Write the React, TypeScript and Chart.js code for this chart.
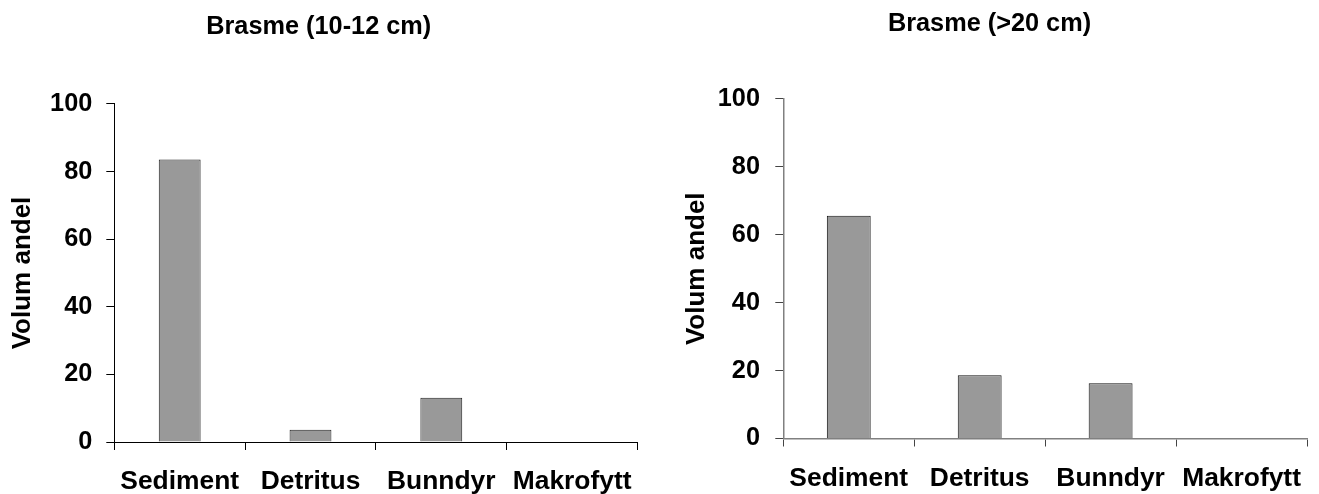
import React, { useEffect, useRef } from "react";
import { Chart, registerables } from "chart.js";

Chart.register(...registerables);

const categories = ["Sediment", "Detritus", "Bunndyr", "Makrofytt"];
const smallFishValues = [83.6, 3.6, 13.1, 0];
const largeFishValues = [65.6, 18.6, 16.3, 0];
const yMin = 0;
const yMax = 100;
const yStep = 20;
const smallTitle = "Brasme (10-12 cm)";
const largeTitle = "Brasme (>20 cm)";
const yAxisTitle = "Volum andel";

const FONT = "'Liberation Sans', Arial, Helvetica, sans-serif";

type Cfg = {
  title: string;
  values: number[];
  width: number;
  padLeft: number;
  padRight: number;
  yWidth: number;
  xHeight: number;
  titleTop: number;
  titleBottom: number;
  yTitlePad: number;
  yTickPad: number;
  barPct: number;
  axisColor: string;
  tickColor: string;
  axisWidth: number;
  barBorder: string;
};

function BarPanel({ cfg, left }: { cfg: Cfg; left: number }) {
  const ref = useRef<HTMLCanvasElement | null>(null);
  useEffect(() => {
    if (!ref.current) return;
    const chart = new Chart(ref.current, {
      type: "bar",
      data: {
        labels: categories,
        datasets: [
          {
            data: cfg.values,
            backgroundColor: "#999999",
            borderColor: cfg.barBorder,
            borderWidth: 1,
            barPercentage: cfg.barPct,
            categoryPercentage: 1,
          },
        ],
      },
      options: {
        responsive: false,
        animation: false,
        devicePixelRatio: 1,
        layout: { padding: { left: cfg.padLeft, right: cfg.padRight, top: 0, bottom: 0 } },
        plugins: {
          legend: { display: false },
          tooltip: { enabled: false },
          title: {
            display: true,
            text: cfg.title,
            color: "#000",
            font: { family: FONT, size: 25.3, weight: "bold", lineHeight: 1.2 },
            padding: { top: cfg.titleTop, bottom: cfg.titleBottom },
          },
        },
        scales: {
          x: {
            offset: true,
            grid: {
              display: true,
              offset: true,
              drawOnChartArea: false,
              drawTicks: true,
              tickLength: 8,
              color: cfg.tickColor,
              lineWidth: 1,
            },
            border: { display: true, color: cfg.axisColor, width: cfg.axisWidth },
            ticks: {
              color: "#000",
              padding: 16.2,
              maxRotation: 0,
              autoSkip: false,
              font: { family: FONT, size: 26.4, weight: "bold", lineHeight: 1.2 },
            },
            afterFit: (s: any) => {
              s.height = cfg.xHeight;
            },
          },
          y: {
            min: yMin,
            max: yMax,
            grid: {
              display: true,
              drawOnChartArea: false,
              drawTicks: true,
              tickLength: 8,
              color: cfg.tickColor,
              lineWidth: 1,
            },
            border: { display: true, color: cfg.axisColor, width: cfg.axisWidth },
            ticks: {
              stepSize: yStep,
              color: "#000",
              padding: cfg.yTickPad,
              font: { family: FONT, size: 25.3, weight: "bold", lineHeight: 1.2 },
            },
            title: {
              display: true,
              text: yAxisTitle,
              color: "#000",
              padding: { top: cfg.yTitlePad, bottom: 0 },
              font: { family: FONT, size: 26, weight: "bold", lineHeight: 1.2 },
            },
            afterFit: (s: any) => {
              s.width = cfg.yWidth;
            },
          },
        },
      },
    } as any);
    return () => chart.destroy();
  }, [cfg]);
  return (
    <canvas
      ref={ref}
      width={cfg.width}
      height={494}
      style={{ position: "absolute", left, top: 0, width: cfg.width, height: 494 }}
    />
  );
}

const leftCfg: Cfg = {
  title: smallTitle,
  values: smallFishValues,
  width: 660,
  padLeft: 0,
  padRight: 22.5,
  yWidth: 114.3,
  xHeight: 52,
  titleTop: 11.5,
  titleBottom: 62.1,
  yTitlePad: 6.9,
  yTickPad: 14,
  barPct: 0.32,
  axisColor: "#000000",
  tickColor: "#000000",
  axisWidth: 1,
  barBorder: "#222222",
};

const rightCfg: Cfg = {
  title: largeTitle,
  values: largeFishValues,
  width: 659,
  padLeft: 12,
  padRight: 12,
  yWidth: 111.3,
  xHeight: 55.5,
  titleTop: 9.3,
  titleBottom: 59.3,
  yTitlePad: 9.4,
  yTickPad: 15.3,
  barPct: 0.335,
  axisColor: "#808080",
  tickColor: "#444444",
  axisWidth: 1.5,
  barBorder: "#111111",
};

export default function App() {
  return (
    <div style={{ position: "absolute", left: 0, top: 0, width: 1319, height: 494, background: "#fff" }}>
      <BarPanel cfg={leftCfg} left={0} />
      <BarPanel cfg={rightCfg} left={660} />
    </div>
  );
}
